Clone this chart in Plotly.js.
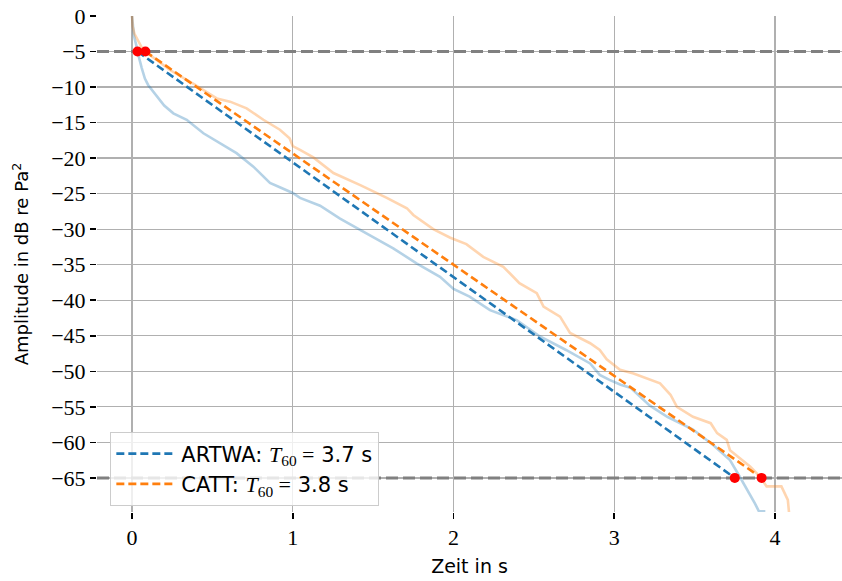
<!DOCTYPE html>
<html>
<head>
<meta charset="utf-8">
<script src="https://cdn.plot.ly/plotly-3.0.1.min.js"></script>
<style>html,body{margin:0;padding:0;background:#fff;}</style>
</head>
<body>
<div id="chart" style="width:842px;height:581px;"></div>
<script>
// ARTWA energy decay curve (light blue)
const artwaT = [0, 0.004, 0.012, 0.025, 0.034, 0.045, 0.06, 0.08, 0.1, 0.13, 0.16, 0.2, 0.257, 0.34, 0.444, 0.547, 0.65, 0.755, 0.858, 0.93, 1.0, 1.045, 1.17, 1.294, 1.46, 1.625, 1.77, 1.916, 2.0, 2.10, 2.227, 2.393, 2.538, 2.70, 2.85, 2.91, 2.97, 3.04, 3.10, 3.16, 3.22, 3.33, 3.49, 3.617, 3.72, 3.78, 3.83, 3.875, 3.9, 3.94];
const artwaL = [0, -1.5, -2.8, -4.0, -5.0, -6.0, -7.3, -8.8, -9.7, -10.6, -11.4, -12.6, -13.7, -14.6, -16.5, -17.9, -19.3, -21.2, -23.5, -24.2, -24.9, -25.6, -26.7, -28.5, -30.6, -32.7, -34.8, -36.7, -38.4, -39.5, -41.4, -42.8, -45.1, -47.0, -48.9, -50.5, -51.2, -51.9, -52.3, -53.6, -54.8, -56.4, -58.2, -60.4, -62.5, -64.8, -66.7, -68.6, -69.7, -69.7];
// CATT energy decay curve (light orange)
const cattT = [0, 0.004, 0.015, 0.035, 0.06, 0.083, 0.12, 0.236, 0.38, 0.527, 0.61, 0.713, 0.817, 0.92, 0.98, 1.0, 1.045, 1.128, 1.253, 1.42, 1.585, 1.71, 1.75, 1.874, 1.98, 2.08, 2.185, 2.31, 2.35, 2.41, 2.518, 2.56, 2.663, 2.725, 2.85, 2.91, 2.953, 3.036, 3.12, 3.22, 3.285, 3.35, 3.39, 3.49, 3.6, 3.64, 3.70, 3.72, 3.78, 3.845, 3.906, 3.948, 4.04, 4.08, 4.09];
const cattL = [0, -1.5, -2.5, -3.4, -4.4, -5.0, -5.6, -7.6, -9.5, -11.6, -12.05, -13.0, -14.6, -16.0, -17.2, -18.3, -18.85, -19.9, -22.1, -23.8, -25.6, -27.05, -28.0, -30.0, -31.2, -32.1, -33.9, -35.3, -36.2, -37.6, -39.0, -40.9, -42.3, -44.6, -46.05, -47.0, -48.3, -49.8, -50.3, -51.2, -51.7, -53.3, -55.0, -56.4, -57.3, -58.7, -59.65, -61.1, -62.2, -63.4, -64.8, -66.2, -66.2, -68.1, -70.5];
// Regression lines between -5 dB and -65 dB
const artwaFitT = [0.034, 3.75];
const cattFitT = [0.083, 3.917];
const fitL = [-5, -65];
const limits = [-5, -65];
const xRange = [-0.218, 4.417];
const yRange = [-69.8, 0];
const xTicks = [0, 1, 2, 3, 4];
const yTicks = [0, -5, -10, -15, -20, -25, -30, -35, -40, -45, -50, -55, -60, -65];
const artwaName = 'ARTWA: <span style="font-family:Liberation Serif;font-size:22px"><i>T</i><sub>60</sub> =</span> 3.7 s';
const cattName = 'CATT: <span style="font-family:Liberation Serif;font-size:22px"><i>T</i><sub>60</sub> =</span> 3.8 s';

const blue = '#1f77b4', orange = '#ff7f0e';
const limitTraces = limits.map(v => ({x: xRange, y: [v, v], mode: 'lines', line: {color: '#808080', width: 3, dash: '12px,5px'}, showlegend: false, hoverinfo: 'skip', cliponaxis: true}));
const traces = limitTraces.concat([
  {x: artwaT, y: artwaL, mode: 'lines', line: {color: 'rgba(31,119,180,0.33)', width: 2.6}, showlegend: false, hoverinfo: 'skip'},
  {x: cattT, y: cattL, mode: 'lines', line: {color: 'rgba(255,127,14,0.33)', width: 2.6}, showlegend: false, hoverinfo: 'skip'},
  {x: artwaFitT, y: fitL, mode: 'lines', name: artwaName, line: {color: blue, width: 2.6, dash: '8px,4px'}},
  {x: cattFitT, y: fitL, mode: 'lines', name: cattName, line: {color: orange, width: 2.6, dash: '8px,4px'}},
  {x: [artwaFitT[0], artwaFitT[1], cattFitT[0], cattFitT[1]], y: [fitL[0], fitL[1], fitL[0], fitL[1]], mode: 'markers', marker: {color: 'red', size: 10}, showlegend: false}
]);

const layout = {
  width: 842, height: 581,
  margin: {l: 97, r: 0, t: 16, b: 69},
  paper_bgcolor: '#fff', plot_bgcolor: '#fff',
  showlegend: true,
  xaxis: {
    range: xRange, tickvals: xTicks, ticktext: xTicks.map(String),
    showgrid: true, gridcolor: '#b0b0b0', gridwidth: 1.3, zeroline: false, showline: false,
    ticks: 'outside', ticklen: 6, tickwidth: 1.5, tickcolor: '#000',
    tickfont: {family: 'Liberation Serif', size: 22, color: '#000'},
    title: {text: 'Zeit in s', font: {family: 'DejaVu Sans', size: 19, color: '#000'}, standoff: 10}
  },
  yaxis: {
    range: yRange, tickvals: yTicks,
    showgrid: true, gridcolor: '#b0b0b0', gridwidth: 1.3, zeroline: false, showline: false,
    ticks: 'outside', ticklen: 6, tickwidth: 1.5, tickcolor: '#000',
    tickfont: {family: 'Liberation Serif', size: 22, color: '#000'},
    title: {text: 'Amplitude in dB re Pa<sup>2</sup>', font: {family: 'DejaVu Sans', size: 18, color: '#000'}, standoff: 17}
  },
  legend: {
    x: 0.0175, y: 0.161, xanchor: 'left', yanchor: 'top',
    bgcolor: 'rgba(255,255,255,0.8)', bordercolor: '#cccccc', borderwidth: 1.3,
    itemwidth: 60,
    font: {family: 'DejaVu Sans', size: 21, color: '#000'}
  }
};
Plotly.newPlot('chart', traces, layout, {displayModeBar: false, staticPlot: true});
</script>
</body>
</html>
